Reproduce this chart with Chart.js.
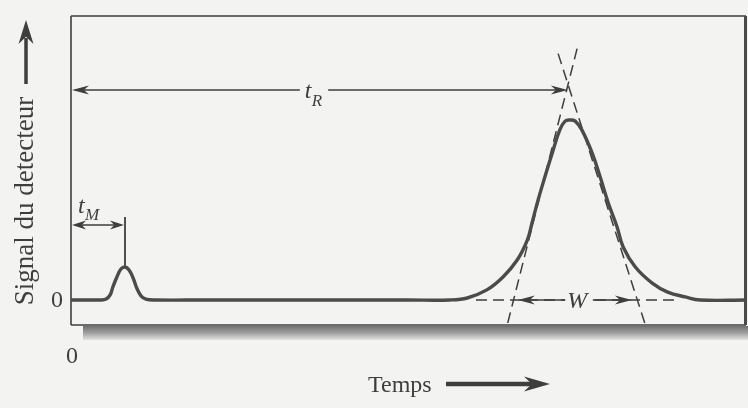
<!DOCTYPE html>
<html><head><meta charset="utf-8">
<script src="https://cdn.jsdelivr.net/npm/chart.js@4/dist/chart.umd.min.js"></script>
<style>html,body{margin:0;padding:0;background:#f3f3f1;}#wrap{width:748px;height:408px;}</style>
</head><body><div id="wrap"><canvas id="c" width="748" height="408"></canvas></div>
<script>
// Detector signal (time in arbitrary units, signal relative to main peak)
const timeValues   = [0, 0.30, 0.43, 0.52, 0.58, 0.62, 0.68, 0.74, 0.80, 0.86, 0.92, 0.98, 1.04, 1.11, 1.24, 2.0, 3.0, 4.0, 5.0, 5.61, 5.87, 6.16, 6.40, 6.61, 6.76, 6.83, 6.92, 7.02, 7.13, 7.24, 7.32, 7.39, 7.47, 7.57, 7.72, 7.84, 7.96, 8.09, 8.18, 8.36, 8.61, 8.84, 9.10, 9.32, 10];
const signalValues = [0, 0, 0, 0.005, 0.028, 0.072, 0.128, 0.172, 0.183, 0.167, 0.122, 0.061, 0.022, 0.005, 0, 0, 0, 0, 0, 0, 0.011, 0.056, 0.128, 0.222, 0.333, 0.428, 0.556, 0.683, 0.817, 0.944, 0.994, 1.0, 0.994, 0.944, 0.817, 0.683, 0.539, 0.406, 0.294, 0.183, 0.094, 0.044, 0.017, 0, 0];
// Tangent construction lines (dashed)
const leftTangentX  = [6.47, 7.50];
const leftTangentY  = [-0.128, 1.40];
const rightTangentX = [8.50, 7.19];
const rightTangentY = [-0.128, 1.40];
const baselineDashX = [6.0, 9.0];
const baselineDashY = [0, 0];
// Annotations
const tMValue = 0.80;       // dead time
const tRValue = 7.36;       // retention time
const wStart = 6.62, wEnd = 8.31;   // peak base width arrows
const tickLabelsY = ["0"];
const tickLabelsX = ["0"];
const axisTitleY = "Signal du detecteur";
const axisTitleX = "Temps";

const INK = '#3e3e3e';
const SERIF = '"Liberation Serif","DejaVu Serif",serif';

function pts(xs, ys){ return xs.map((x,i)=>({x:x, y:ys[i]})); }

function head(ctx, tx, ty, ang, len, hw){
  const dx = Math.cos(ang), dy = Math.sin(ang);
  const px = -dy, py = dx;
  ctx.beginPath();
  ctx.moveTo(tx, ty);
  ctx.lineTo(tx - len*dx + hw*px, ty - len*dy + hw*py);
  ctx.lineTo(tx - 0.7*len*dx, ty - 0.7*len*dy);
  ctx.lineTo(tx - len*dx - hw*px, ty - len*dy - hw*py);
  ctx.closePath();
  ctx.fill();
}
function seg(ctx, x1, y1, x2, y2){ ctx.beginPath(); ctx.moveTo(x1,y1); ctx.lineTo(x2,y2); ctx.stroke(); }

const deco = {
  id: 'deco',
  beforeDraw(chart){
    const ctx = chart.ctx, a = chart.chartArea;
    ctx.save();
    ctx.fillStyle = '#f3f3f1';
    ctx.fillRect(0,0,chart.width,chart.height);
    // shadow below frame
    const g = ctx.createLinearGradient(0, a.bottom+1, 0, a.bottom+15);
    g.addColorStop(0, '#707070'); g.addColorStop(0.5,'#a0a0a0'); g.addColorStop(1, '#e4e4e2');
    ctx.fillStyle = g;
    ctx.fillRect(a.left + 12, a.bottom + 1, chart.width - a.left - 12, 14);
    // frame
    ctx.strokeStyle = INK; ctx.lineWidth = 1.6;
    seg(ctx, a.left, a.top, a.right, a.top);
    seg(ctx, a.left, a.top, a.left, a.bottom);
    seg(ctx, a.left, a.bottom, a.right, a.bottom);
    ctx.lineWidth = 3; ctx.strokeStyle = '#4a4a4a';
    seg(ctx, a.right - 0.5, a.top, a.right - 0.5, a.bottom);
    ctx.restore();
  },
  afterDatasetsDraw(chart){
    const ctx = chart.ctx, a = chart.chartArea;
    const xs = chart.scales.x, ys = chart.scales.y;
    const X = v => xs.getPixelForValue(v), Y = v => ys.getPixelForValue(v);
    ctx.save();
    ctx.strokeStyle = INK; ctx.fillStyle = INK; ctx.lineWidth = 1.6;
    // t_R arrow
    const yR = Y(1.167);
    const gapL = X(3.39), gapR = X(3.81);
    seg(ctx, X(0)+4, yR, gapL, yR);
    seg(ctx, gapR, yR, X(tRValue)-8, yR);
    head(ctx, X(0)+1, yR, Math.PI, 17, 4.5);
    head(ctx, X(tRValue), yR, 0, 17, 4.5);
    ctx.font = 'italic 24px ' + SERIF; ctx.textBaseline = 'alphabetic'; ctx.textAlign = 'left';
    ctx.fillText('t', gapL + 5, yR + 8);
    ctx.font = 'italic 17px ' + SERIF;
    ctx.fillText('R', gapL + 12, yR + 16);
    // t_M arrow
    const yM = Y(0.417);
    seg(ctx, X(0)+4, yM, X(tMValue)-4, yM);
    head(ctx, X(0)+1, yM, Math.PI, 14, 4.5);
    head(ctx, X(tMValue)-1, yM, 0, 14, 4.5);
    ctx.lineWidth = 1.8;
    seg(ctx, X(tMValue), Y(0.461), X(tMValue), Y(0.19));
    ctx.lineWidth = 1.6;
    ctx.font = 'italic 24px ' + SERIF;
    ctx.fillText('t', X(tMValue) - 47, yM - 12);
    ctx.font = 'italic 17px ' + SERIF;
    ctx.fillText('M', X(tMValue) - 40, yM - 5);
    // W arrows
    const yW = Y(0);
    ctx.lineWidth = 1.6;
    seg(ctx, X(wStart)+8, yW, X(7.32), yW);
    seg(ctx, X(7.73), yW, X(wEnd)-8, yW);
    head(ctx, X(wStart), yW, Math.PI, 17, 4.5);
    head(ctx, X(wEnd), yW, 0, 17, 4.5);
    ctx.font = 'italic 24px ' + SERIF; ctx.textAlign = 'center';
    ctx.fillStyle = '#f3f3f1'; ctx.fillRect(X(7.50)-12, yW-3, 24, 6);
    ctx.fillStyle = INK;
    ctx.fillText('W', X(7.50), yW + 8);
    // tick labels
    ctx.font = '24px ' + SERIF; ctx.textAlign = 'center'; ctx.textBaseline = 'middle';
    ctx.fillText(tickLabelsY[0], a.left - 14, Y(0) + 1);
    ctx.fillText(tickLabelsX[0], X(0) + 1, a.bottom + 32);
    // x title with arrow
    ctx.textAlign = 'left'; ctx.textBaseline = 'alphabetic';
    ctx.fillText(axisTitleX, 368, 392);
    ctx.lineWidth = 4.5;
    seg(ctx, 446, 384, 532, 384);
    head(ctx, 550, 384, 0, 26, 7.5);
    // y title with arrow
    ctx.save();
    ctx.translate(33, 201);
    ctx.rotate(-Math.PI/2);
    ctx.font = '27px ' + SERIF; ctx.textAlign = 'center';
    ctx.fillText(axisTitleY, 0, 0);
    ctx.restore();
    ctx.lineWidth = 3.5;
    seg(ctx, 26, 84, 26, 38);
    head(ctx, 26, 20, -Math.PI/2, 24, 7.5);
    ctx.restore();
  }
};

new Chart(document.getElementById('c'), {
  type: 'line',
  data: {
    datasets: [
      { data: pts(timeValues, signalValues), borderColor: '#4b4b4b', borderWidth: 3.4, pointRadius: 0, tension: 0.4, fill: false },
      { data: pts(leftTangentX, leftTangentY), borderColor: INK, borderWidth: 1.5, borderDash: [11, 6], pointRadius: 0, fill: false },
      { data: pts(rightTangentX, rightTangentY), borderColor: INK, borderWidth: 1.5, borderDash: [11, 6], pointRadius: 0, fill: false },
      { data: pts(baselineDashX, baselineDashY), borderColor: INK, borderWidth: 1.5, borderDash: [11, 6], pointRadius: 0, fill: false }
    ]
  },
  options: {
    responsive: false, animation: false, devicePixelRatio: 1,
    layout: { padding: { left: 71, right: 2, top: 16, bottom: 83 } },
    scales: {
      x: { type: 'linear', min: 0, max: 10, display: false },
      y: { type: 'linear', min: -0.139, max: 1.578, display: false }
    },
    plugins: { legend: { display: false }, tooltip: { enabled: false }, title: { display: false } }
  },
  plugins: [deco]
});
</script>
</body></html>
